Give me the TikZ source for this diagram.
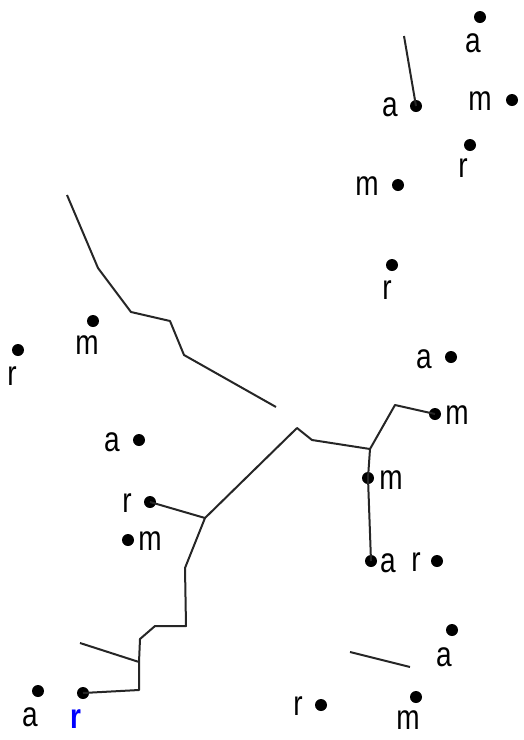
\documentclass[tikz,border=0pt]{standalone}
\usepackage{fontspec}
\setmainfont{Liberation Sans}
\begin{document}
\begin{tikzpicture}[x=1pt,y=-1pt,
  dot/.style={circle,fill=black,inner sep=0pt,minimum size=12pt},
  lab/.style={inner sep=0pt,font=\fontsize{28}{28}\selectfont},
  edge/.style={line width=2pt,black!85,line join=round}]
\useasboundingbox (0,0) rectangle (523,740);
\newcommand{\lbl}[3]{\node[lab] (#1) at (#2) {\scalebox{1}[1.25]{#3}};}
% dots
\node[dot] (d1) at (480,17) {};
\node[dot] (d2) at (416,106) {};
\node[dot] (d3) at (512,100) {};
\node[dot] (d4) at (470,145) {};
\node[dot] (d5) at (398,185) {};
\node[dot] (d6) at (392,265) {};
\node[dot] (d7) at (93,321) {};
\node[dot] (d8) at (18,350) {};
\node[dot] (d9) at (451,357) {};
\node[dot] (d10) at (139,440) {};
\node[dot] (d11) at (435,414) {};
\node[dot] (d12) at (150,502) {};
\node[dot] (d13) at (368,478) {};
\node[dot] (d14) at (128,540) {};
\node[dot] (d15) at (371,561) {};
\node[dot] (d16) at (437,561) {};
\node[dot] (d17) at (452,630) {};
\node[dot] (d18) at (38,691) {};
\node[dot] (d19) at (83,693) {};
\node[dot] (d20) at (321,705) {};
\node[dot] (d21) at (416,697) {};
% labels
\lbl{l1}{473,43}{a}
\lbl{l2}{390,107}{a}
\lbl{l3}{480,101}{m}
\lbl{l4}{463,168}{r}
\lbl{l5}{367,186}{m}
\lbl{l6}{387,290}{r}
\lbl{l7}{87,345}{m}
\lbl{l8}{12,376}{r}
\lbl{l9}{424,359}{a}
\lbl{l10}{112,442}{a}
\lbl{l11}{457,415}{m}
\lbl{l12}{127,503}{r}
\lbl{l13}{391,480}{m}
\lbl{l14}{150,541}{m}
\lbl{l15}{388,563}{a}
\lbl{l16}{416,562}{r}
\lbl{l17}{444,657}{a}
\lbl{l18}{30,717}{a}
\node[lab,text=blue,font=\fontsize{28}{28}\selectfont\bfseries] (l19) at (76,719) {\scalebox{1}[1.25]{r}};
\lbl{l20}{298,706}{r}
\lbl{l21}{408,720}{m}
% coordinates
\coordinate (t0) at (404,36);
\coordinate (p1) at (67,195);
\coordinate (p2) at (276,407);
\coordinate (q1) at (350,652);
\coordinate (q2) at (410,667);
\coordinate (j1) at (139,662);
\coordinate (j2) at (205,518);
\coordinate (j3) at (370,449);
\coordinate (b1) at (80,643);
% lines
\draw[edge] (t0) -- (d2.center);
\draw[edge] (p1) -- (98,268) -- (131,312) -- (170,321) -- (184,355) -- (p2);
\draw[edge] (q1) -- (q2);
\draw[edge] (d19.center) -- (139,690) -- (j1) -- (140,639) -- (155,626) -- (186,626) -- (185,568) -- (j2) -- (297,428) -- (312,440) -- (j3) -- (395,405) -- (d11.center);
\draw[edge] (j3) -- (d13.center) -- (d15.center);
\draw[edge] (j2) -- (d12.center);
\draw[edge] (j1) -- (b1);
\end{tikzpicture}
\end{document}
